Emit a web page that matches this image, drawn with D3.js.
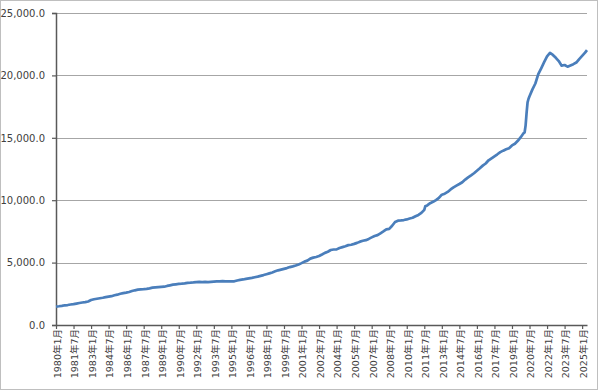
<!DOCTYPE html>
<html>
<head>
<meta charset="utf-8">
<script src="https://cdn.jsdelivr.net/npm/d3@7"></script>
<style>
  body { margin: 0; background: #fff; }
  text { font-family: "DejaVu Sans", "Noto Sans CJK SC", sans-serif; fill: #404040; }
</style>
</head>
<body>
<div id="chart"></div>
<script>
// month keys and values (quarterly, plus spring 2020)
const months = [
  "1980-01","1980-04","1980-07","1980-10","1981-01","1981-04","1981-07","1981-10",
  "1982-01","1982-04","1982-07","1982-10","1983-01","1983-04","1983-07","1983-10",
  "1984-01","1984-04","1984-07","1984-10","1985-01","1985-04","1985-07","1985-10",
  "1986-01","1986-04","1986-07","1986-10","1987-01","1987-04","1987-07","1987-10",
  "1988-01","1988-04","1988-07","1988-10","1989-01","1989-04","1989-07","1989-10",
  "1990-01","1990-04","1990-07","1990-10","1991-01","1991-04","1991-07","1991-10",
  "1992-01","1992-04","1992-07","1992-10","1993-01","1993-04","1993-07","1993-10",
  "1994-01","1994-04","1994-07","1994-10","1995-01","1995-04","1995-07","1995-10",
  "1996-01","1996-04","1996-07","1996-10","1997-01","1997-04","1997-07","1997-10",
  "1998-01","1998-04","1998-07","1998-10","1999-01","1999-04","1999-07","1999-10",
  "2000-01","2000-04","2000-07","2000-10","2001-01","2001-04","2001-07","2001-10",
  "2002-01","2002-04","2002-07","2002-10","2003-01","2003-04","2003-07","2003-10",
  "2004-01","2004-04","2004-07","2004-10","2005-01","2005-04","2005-07","2005-10",
  "2006-01","2006-04","2006-07","2006-10","2007-01","2007-04","2007-07","2007-10",
  "2008-01","2008-04","2008-07","2008-10","2009-01","2009-04","2009-07","2009-10",
  "2010-01","2010-04","2010-07","2010-10","2011-01","2011-04","2011-07","2011-08","2011-10",
  "2012-01","2012-04","2012-07","2012-10","2013-01","2013-04","2013-07","2013-10",
  "2014-01","2014-04","2014-07","2014-10","2015-01","2015-04","2015-07","2015-10",
  "2016-01","2016-04","2016-07","2016-10","2017-01","2017-04","2017-07","2017-10",
  "2018-01","2018-04","2018-07","2018-10","2019-01","2019-04","2019-07","2019-10",
  "2020-01","2020-02","2020-03","2020-04","2020-05","2020-06","2020-07","2020-10",
  "2021-01","2021-04","2021-07","2021-10","2022-01","2022-04","2022-07","2022-10",
  "2023-01","2023-04","2023-07","2023-10","2024-01","2024-04","2024-07","2024-10",
  "2025-01","2025-04","2025-06"
];
const values = [
  1474,1500,1535,1580,1600,1640,1670,1715,
  1765,1800,1830,1880,2000,2060,2100,2140,
  2180,2230,2270,2310,2380,2430,2500,2550,
  2590,2640,2720,2780,2830,2860,2870,2900,
  2940,2990,3020,3040,3060,3070,3130,3180,
  3230,3260,3290,3310,3340,3380,3390,3410,
  3440,3450,3440,3450,3430,3450,3470,3490,
  3500,3510,3500,3500,3490,3500,3570,3620,
  3650,3700,3740,3780,3830,3880,3940,4000,
  4070,4140,4210,4300,4380,4440,4500,4560,
  4640,4700,4770,4850,4960,5080,5160,5320,
  5400,5450,5530,5650,5780,5870,6010,6050,
  6060,6170,6240,6310,6400,6430,6500,6580,
  6680,6750,6800,6900,7020,7130,7200,7350,
  7500,7660,7700,7950,8250,8360,8380,8410,
  8460,8530,8590,8710,8820,8980,9230,9510,9580,
  9760,9870,10010,10180,10440,10520,10660,10860,
  11030,11170,11300,11440,11650,11830,11990,12160,
  12360,12560,12770,12940,13200,13360,13520,13680,
  13850,13970,14080,14170,14390,14520,14760,15050,
  15380,15440,16000,17000,17840,18130,18330,18880,
  19350,20100,20570,21060,21520,21800,21640,21410,
  21150,20780,20830,20700,20800,20900,21030,21310,
  21560,21820,22020
];
const tickLabels = [
  "1980年1月","1981年7月","1983年1月","1984年7月","1986年1月","1987年7月",
  "1989年1月","1990年7月","1992年1月","1993年7月","1995年1月","1996年7月",
  "1998年1月","1999年7月","2001年1月","2002年7月","2004年1月","2005年7月",
  "2007年1月","2008年7月","2010年1月","2011年7月","2013年1月","2014年7月",
  "2016年1月","2017年7月","2019年1月","2020年7月","2022年1月","2023年7月",
  "2025年1月"
];
const yTicks = [0, 5000, 10000, 15000, 20000, 25000];

const W = 600, H = 391;
const margin = {top: 13, right: 13, bottom: 66, left: 56};

const monthIndex = s => (+s.slice(0, 4) - 1980) * 12 + (+s.slice(5, 7) - 1);
const labelIndex = s => {
    const m = s.match(/(\d+)年(\d+)月/);
    return (+m[1] - 1980) * 12 + (+m[2] - 1);
};

const data = months.map((m, i) => ({x: monthIndex(m), v: values[i]}));

const svg = d3.select("#chart").append("svg")
    .attr("width", W)
    .attr("height", H);

// outer border
svg.append("rect")
    .attr("x", 0.5).attr("y", 0.5)
    .attr("width", 597).attr("height", 389)
    .attr("fill", "none")
    .attr("stroke", "#bfbfbf");

const xScale = d3.scaleLinear()
    .domain([0, 545])
    .range([margin.left, W - margin.right]);

const yScale = d3.scaleLinear()
    .domain([0, 25000])
    .range([H - margin.bottom, margin.top]);

// gridlines
svg.append("g")
    .selectAll("line")
    .data(yTicks.slice(1))
    .enter()
    .append("line")
    .attr("x1", margin.left)
    .attr("x2", W - margin.right)
    .attr("y1", d => Math.round(yScale(d)) + 0.5)
    .attr("y2", d => Math.round(yScale(d)) + 0.5)
    .attr("stroke", "#a6a6a6")
    .attr("stroke-width", 1);

// y axis
const yAxis = svg.append("g")
    .attr("transform", `translate(${margin.left},0)`)
    .call(d3.axisLeft(yScale)
        .tickValues(yTicks)
        .tickFormat(d3.format(",.1f"))
        .tickSize(4)
        .tickPadding(7));
yAxis.select(".domain").attr("stroke", "#595959").attr("stroke-width", 1.5);
yAxis.selectAll(".tick line").attr("stroke", "#595959").attr("stroke-width", 1.2);
yAxis.selectAll("text")
    .attr("font-size", "10px")
    .style("font-family", "'DejaVu Sans', sans-serif")
    .attr("fill", "#404040");

// x axis
const xAxis = svg.append("g")
    .attr("transform", `translate(0,${H - margin.bottom})`)
    .call(d3.axisBottom(xScale)
        .tickValues(tickLabels.map(labelIndex))
        .tickFormat((d, i) => tickLabels[i])
        .tickSize(4)
        .tickSizeOuter(0));
xAxis.select(".domain").attr("stroke", "#595959").attr("stroke-width", 1.5);
xAxis.selectAll(".tick line").attr("stroke", "#595959").attr("stroke-width", 1.2);
xAxis.selectAll("text")
    .attr("font-size", "9.5px")
    .attr("fill", "#404040")
    .attr("text-anchor", "end")
    .attr("transform", "rotate(-90)")
    .attr("x", -4)
    .attr("y", 1)
    .attr("dy", "0.35em");

// line
const line = d3.line()
    .x(d => xScale(d.x))
    .y(d => yScale(d.v));

svg.append("path")
    .datum(data)
    .attr("fill", "none")
    .attr("stroke", "#4a7ebb")
    .attr("stroke-width", 2.7)
    .attr("stroke-linejoin", "round")
    .attr("d", line);
</script>
</body>
</html>
